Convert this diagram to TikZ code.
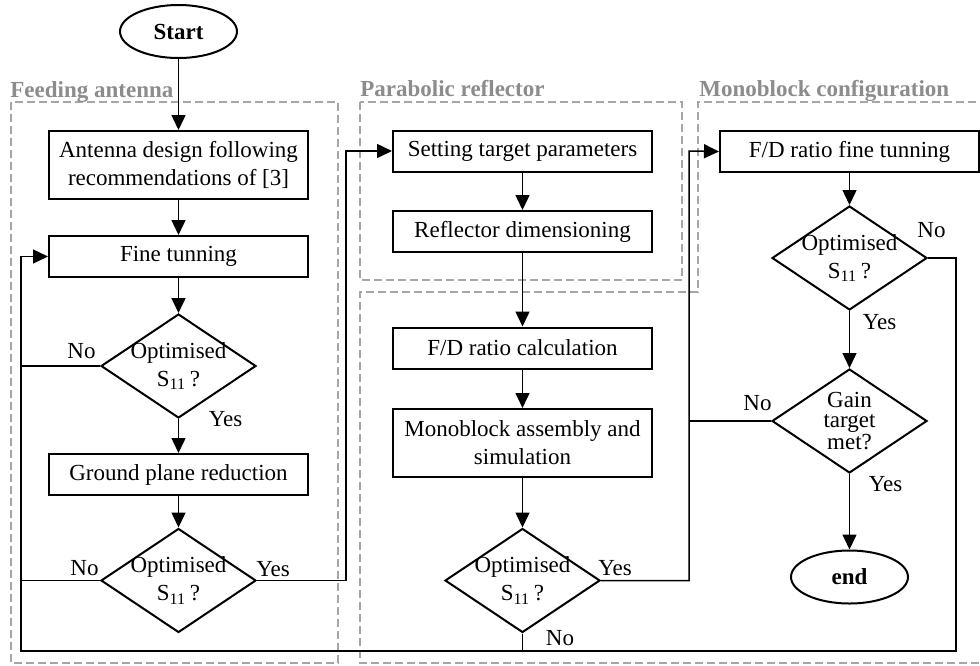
\documentclass[tikz,border=0pt]{standalone}
\usepackage{fontspec}
\setmainfont{Liberation Serif}
\usepackage{tikz}
\usetikzlibrary{shapes.geometric,arrows.meta}

\begin{document}
\begin{tikzpicture}[x=0.5pt,y=-0.5pt,font=\fontsize{11.5}{14}\selectfont,
  blk/.style={rectangle,draw,line width=1pt,minimum width=129.5pt,minimum height=20.5pt,align=center,inner sep=2pt},
  dec/.style={diamond,draw,line width=1pt,aspect=1.49,inner sep=-1.5pt,minimum width=77.5pt,minimum height=52pt,align=center},
  term/.style={ellipse,draw,line width=1pt,minimum width=58.5pt,minimum height=26.5pt,font=\fontsize{11.5}{14}\selectfont\bfseries},
  con/.style={line width=0.75pt},
  arr/.style={con,-{Triangle[length=7.5pt,width=7pt]}},
  grp/.style={draw=black!35,line width=0.6pt,dash pattern=on 4pt off 2pt},
  grplbl/.style={anchor=base west,inner sep=0pt,text=black!45,font=\fontsize{11.5}{14}\selectfont\bfseries},
  lbl/.style={inner sep=0pt}]
\useasboundingbox (0,0) rectangle (980,665);

% groups
\draw[grp] (11,102) rectangle (338,663);
\draw[grp] (360,102) rectangle (682,280);
\draw[grp] (1000,102) -- (698,102) -- (698,292) -- (360,292) -- (360,663) -- (1000,663);
\node (gfa) at (10,97) [grplbl] {Feeding antenna};
\node (gpr) at (360,96) [grplbl] {Parabolic reflector};
\node (gmc) at (699,96) [grplbl] {Monoblock configuration};

% feeding antenna
\node (st) at (178.5,31.5) [term] {Start};
\node (ad) at (178.5,165) [blk,minimum height=34pt] {Antenna design following\\recommendations of [3]};
\node (ft) at (178.5,256.5) [blk] {Fine tunning};
\node (d1) at (178.5,366) [dec] {Optimised\\S\textsubscript{11}\,?};
\node (gp) at (178.5,474.5) [blk] {Ground plane reduction};
\node (d2) at (178.5,580.5) [dec] {Optimised\\S\textsubscript{11}\,?};

% reflector
\node (tp) at (522.5,151) [blk] {Setting target parameters};
\node (rd) at (522.5,231.5) [blk] {Reflector dimensioning};
\node (fd) at (522.5,348) [blk] {F/D ratio calculation};
\node (ms) at (522.5,443) [blk,minimum height=34pt] {Monoblock assembly and\\simulation};
\node (d3) at (522.5,580.5) [dec] {Optimised\\S\textsubscript{11}\,?};

% monoblock
\node (ff) at (849.5,151.5) [blk] {F/D ratio fine tunning};
\node (d4) at (849.5,258) [dec] {Optimised\\S\textsubscript{11}\,?};
\node (d5) at (849.5,421) [dec,font=\fontsize{11.5}{10}\selectfont] {Gain\\target\\met?};
\node (en) at (849.5,577) [term] {end};

\coordinate (lb) at (21,651);
\coordinate (rb) at (956,651);
\coordinate (j1) at (346,151);
\coordinate (j2) at (689,151);

\draw[arr] (st) -- (ad);
\draw[arr] (ad) -- (ft);
\draw[arr] (ft) -- (d1);
\draw[arr] (d1) -- (gp);
\draw[arr] (gp) -- (d2);
\draw[con] (d1.west) -- (d1.west -| lb);
\draw[con] (d2.west) -- (d2.west -| lb);
\draw[arr] (d2.east) -| (j1) -- (tp.west);

\draw[arr] (tp) -- (rd);
\draw[arr] (rd) -- (fd);
\draw[arr] (fd) -- (ms);
\draw[arr] (ms) -- (d3);
\draw[arr] (d3.east) -| (j2) -- (ff.west);
\draw[con] (d3.south) -- (d3.south |- lb);

\draw[arr] (ff) -- (d4);
\draw[arr] (d4) -- (d5);
\draw[arr] (d5) -- (en);
\draw[con] (d5.west) -- (d5.west -| j2);
\draw[arr] (d4.east) -| (rb) -- (lb) |- (ft.west);

% yes / no
\node (n1) at (d1.west) [lbl,anchor=base east,xshift=-2pt,yshift=4pt] {No};
\node (y1) at (d1.south) [lbl,anchor=base west,xshift=15pt,yshift=-3.5pt] {Yes};
\node (n2) at (d2.west) [lbl,anchor=base east,xshift=-0.5pt,yshift=2.5pt] {No};
\node (y2) at (d2.east) [lbl,anchor=base west,xshift=-0.5pt,yshift=2pt] {Yes};
\node (y3) at (d3.east) [lbl,anchor=base west,xshift=-1.5pt,yshift=2.5pt] {Yes};
\node (n3) at (d3.south |- lb) [lbl,anchor=base west,xshift=11.5pt,yshift=3pt] {No};
\node (n4) at (d4.east) [lbl,anchor=base west,xshift=-5.5pt,yshift=10.5pt] {No};
\node (y4) at (d4.south) [lbl,anchor=base west,xshift=6.5pt,yshift=-9pt] {Yes};
\node (n5) at (d5.west) [lbl,anchor=base east,xshift=0.5pt,yshift=5.5pt] {No};
\node (y5) at (d5.south) [lbl,anchor=base west,xshift=9.5pt,yshift=-8.5pt] {Yes};

\end{tikzpicture}
\end{document}
